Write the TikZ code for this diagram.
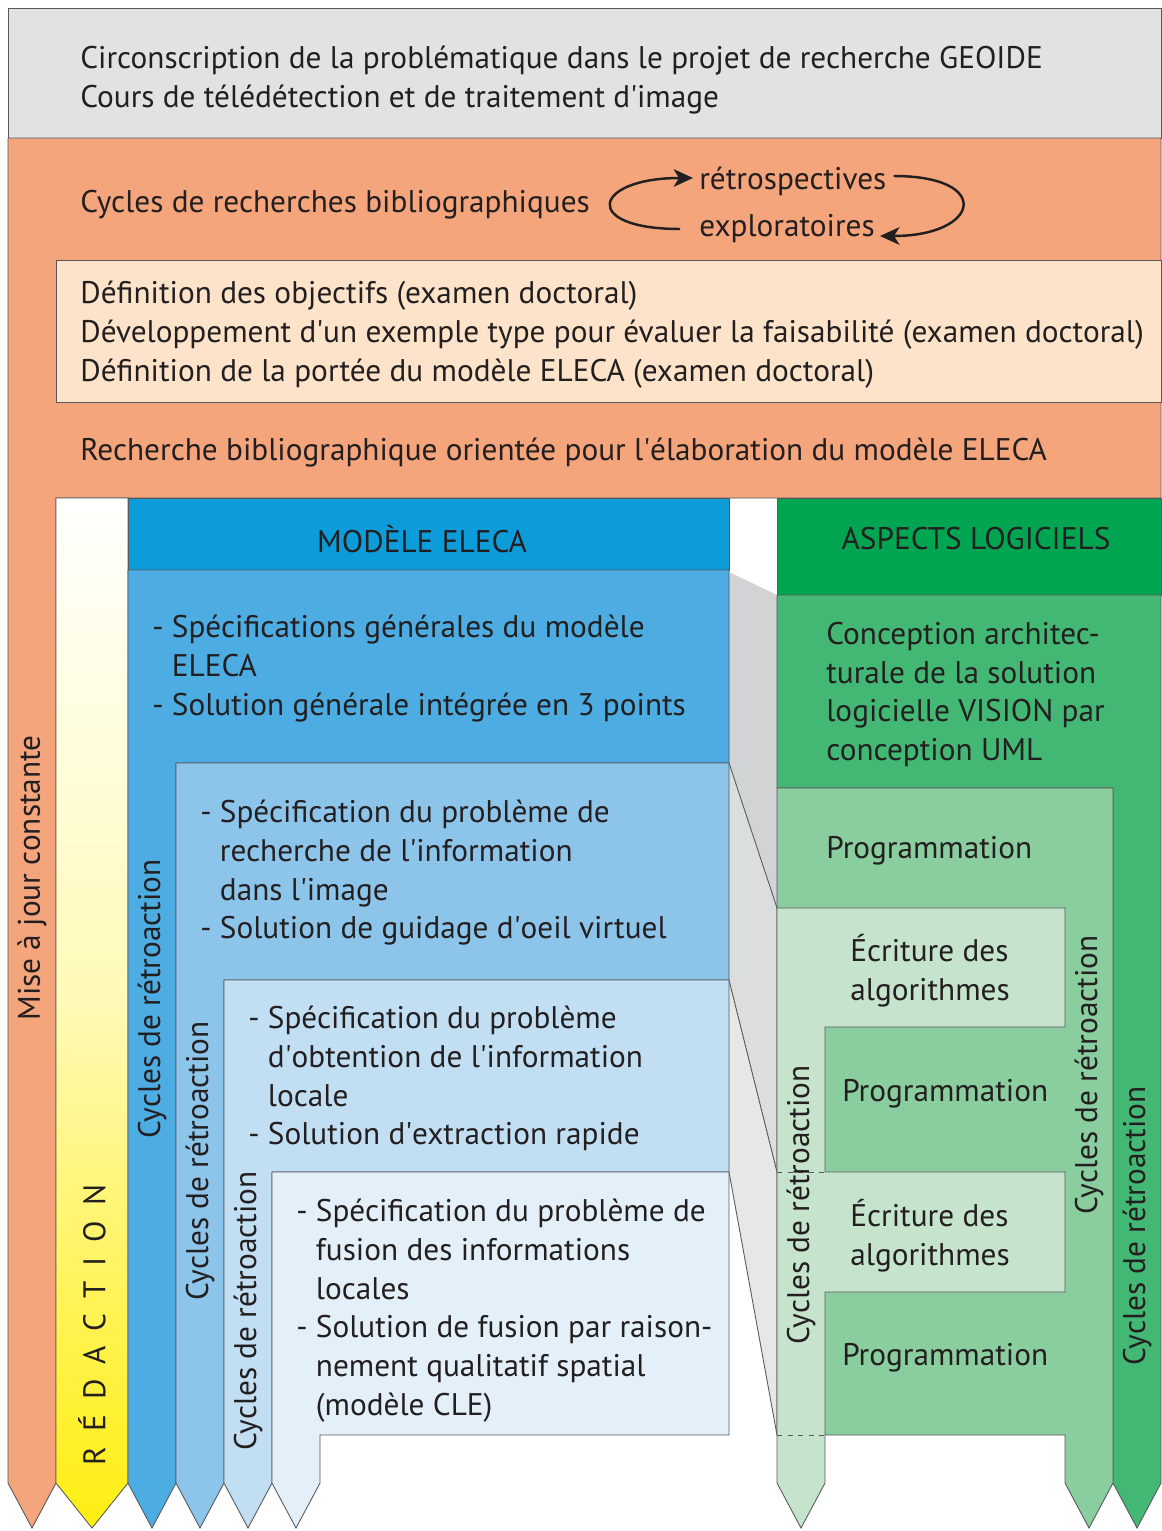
\documentclass[tikz,border=0pt]{standalone}
\usepackage{fontspec}
\setmainfont{PT Sans}
\usepackage{tikz}
\usetikzlibrary{shapes,arrows,arrows.meta,calc}

\definecolor{ink}{HTML}{231F20}
\definecolor{edge}{HTML}{58595B}
\definecolor{greytop}{HTML}{E1E2E3}
\definecolor{orangebg}{HTML}{F4A57C}
\definecolor{creambg}{HTML}{FCE3C9}
\definecolor{blueH}{HTML}{0C9CDA}
\definecolor{blueA}{HTML}{4DADE2}
\definecolor{blueB}{HTML}{8DC5EA}
\definecolor{blueC}{HTML}{C2DEF3}
\definecolor{blueD}{HTML}{E3F0FA}
\definecolor{greenH}{HTML}{00A551}
\definecolor{greenA}{HTML}{43B874}
\definecolor{greenB}{HTML}{8ACD9E}
\definecolor{greenC}{HTML}{C6E4CC}
\definecolor{greyA}{HTML}{D1D3D4}
\definecolor{greyB}{HTML}{DCDDDF}
\definecolor{greyC}{HTML}{E6E7E8}
\definecolor{yellowbg}{HTML}{FFEE10}

\newcommand{\ap}{\textquotesingle}

\tikzstyle{band} = [draw=edge, line width=0.5pt]
\tikzstyle{lbl} = [inner sep=0pt, text=ink, font=\fontsize{17.8}{22}\selectfont]
\tikzstyle{para} = [lbl, align=left, anchor=north west]
\tikzstyle{oneline} = [lbl, anchor=west]
\tikzstyle{vlabel} = [lbl, rotate=90]
\tikzstyle{cyclearrow} = [-{Stealth[length=11pt,width=10pt,inset=3pt]}, draw=ink, line width=1.4pt]

\begin{document}
\begin{tikzpicture}[x=0.02cm, y=-0.02cm]
  \useasboundingbox (0,0) rectangle (1161,1531);
  % Place bands
  \filldraw [band, fill=greytop] (8,8) rectangle (1161,138);
  \filldraw [band, fill=orangebg] (8,138) -- (1161,138) -- (1161,498) -- (56,498)
    -- (56,1483) -- (32,1528) -- (8,1483) -- cycle;
  \filldraw [band, fill=creambg] (56,260) rectangle (1161,402);
  \shade [top color=white, bottom color=yellowbg!30] (56,498) rectangle (128,1000);
  \shade [top color=yellowbg!30, bottom color=yellowbg]
    (56,999) -- (128,999) -- (128,1483) -- (92,1528) -- (56,1483) -- cycle;
  \draw [band] (56,498) -- (128,498) -- (128,1483) -- (92,1528) -- (56,1483) -- cycle;
  % grey links between the two sides
  \fill [greyA] (729,572) -- (777,595) -- (777,908) -- (729,763) -- cycle;
  \fill [greyB] (729,763) -- (777,908) -- (777,1172) -- (729,980) -- cycle;
  \fill [greyC] (729,980) -- (777,1172) -- (777,1435) -- (729,1172) -- cycle;
  \draw [band] (729,763) -- (777,908);
  \draw [band] (729,980) -- (777,1172);
  \draw [band] (729,1172) -- (777,1435);
  % blue side
  \filldraw [band, fill=blueH] (128,498) rectangle (729,570);
  \filldraw [band, fill=blueA] (128,570) -- (729,570) -- (729,763) -- (176,763)
    -- (176,1483) -- (152,1528) -- (128,1483) -- cycle;
  \filldraw [band, fill=blueB] (176,763) -- (729,763) -- (729,980) -- (224,980)
    -- (224,1483) -- (200,1528) -- (176,1483) -- cycle;
  \filldraw [band, fill=blueC] (224,980) -- (729,980) -- (729,1172) -- (272,1172)
    -- (272,1483) -- (248,1528) -- (224,1483) -- cycle;
  \filldraw [band, fill=blueD] (272,1172) -- (729,1172) -- (729,1435) -- (320,1435)
    -- (320,1483) -- (296,1528) -- (272,1483) -- cycle;
  % green side
  \filldraw [band, fill=greenH] (777,498) rectangle (1161,595);
  \filldraw [band, fill=greenA] (777,595) -- (1161,595) -- (1161,1483) -- (1137,1528)
    -- (1113,1483) -- (1113,788) -- (777,788) -- cycle;
  \filldraw [band, fill=greenB] (777,788) -- (1113,788) -- (1113,1483) -- (1089,1528)
    -- (1065,1483) -- (1065,1435) -- (777,1435) -- cycle;
  \filldraw [band, fill=greenC] (777,908) -- (1065,908) -- (1065,1027) -- (825,1027)
    -- (825,1172) -- (1065,1172) -- (1065,1292) -- (825,1292) -- (825,1483)
    -- (801,1528) -- (777,1483) -- cycle;
  \draw [band, dashed] (777,1172) -- (825,1172);
  \draw [band, dashed] (777,1435) -- (825,1435);

  % Place texts
  \node [para] (geoide) at (80,46) {Circonscription de la problématique dans le projet de recherche GEOIDE\\
    Cours de télédétection et de traitement d\ap image};
  \node [oneline] (cycles) at (80,205) {Cycles de recherches bibliographiques};
  \node [oneline] (retro) at (699,181) {rétrospectives};
  \node [oneline] (explo) at (699,229) {exploratoires};
  \node [para] (objectifs) at (80,281) {Définition des objectifs (examen doctoral)\\
    Développement d\ap un exemple type pour évaluer la faisabilité (examen doctoral)\\
    Définition de la portée du modèle ELECA (examen doctoral)};
  \node [oneline] (orientee) at (80,453) {Recherche bibliographique orientée pour l\ap élaboration du modèle ELECA};
  \node [lbl] (modele) at (422,539) {MODÈLE ELECA};
  \node [lbl] (aspects) at (976,539) {ASPECTS LOGICIELS};
  \node [para] (general) at (152,615) {- Spécifications générales du modèle\\
    \phantom{- }ELECA\\
    - Solution générale intégrée en 3 points};
  \node [para] (guidage) at (200,800) {- Spécification du problème de\\
    \phantom{- }recherche de l\ap information\\
    \phantom{- }dans l\ap image\\
    - Solution de guidage d\ap oeil virtuel};
  \node [para] (extraction) at (248,1006) {- Spécification du problème\\
    \phantom{- }d\ap obtention de l\ap information\\
    \phantom{- }locale\\
    - Solution d\ap extraction rapide};
  \node [para] (fusion) at (296,1199) {- Spécification du problème de\\
    \phantom{- }fusion des informations\\
    \phantom{- }locales\\
    - Solution de fusion par raison-\\
    \phantom{- }nement qualitatif spatial\\
    \phantom{- }(modèle CLE)};
  \node [para] (uml) at (826,622) {Conception architec-\\
    turale de la solution\\
    logicielle VISION par\\
    conception UML};
  \node [oneline] (prog1) at (826,851) {Programmation};
  \node [para] (ecrit1) at (850,934) {Écriture des\\algorithmes};
  \node [oneline] (prog2) at (842,1094) {Programmation};
  \node [para] (ecrit2) at (850,1199) {Écriture des\\algorithmes};
  \node [oneline] (prog3) at (842,1358) {Programmation};
  % vertical labels
  \node [vlabel] (mise) at (32,878) {Mise à jour constante};
  \node [vlabel] (redaction) at (92,1325) {R\hspace{8.5pt}É\hspace{8.5pt}D\hspace{8.5pt}A\hspace{8.5pt}C\hspace{8.5pt}T\hspace{8.5pt}I\hspace{8.5pt}O\hspace{8.5pt}N};
  \node [vlabel] (retroA) at (152,999) {Cycles de rétroaction};
  \node [vlabel] (retroB) at (200,1161) {Cycles de rétroaction};
  \node [vlabel] (retroC) at (248,1311) {Cycles de rétroaction};
  \node [vlabel] (retroD) at (801,1205) {Cycles de rétroaction};
  \node [vlabel] (retroE) at (1089,1075) {Cycles de rétroaction};
  \node [vlabel] (retroF) at (1137,1226) {Cycles de rétroaction};

  % Draw edges
  \draw [cyclearrow] ($(explo.west)+(-19,0)$) .. controls +(-100,0) and +(-100,0) .. ($(retro.west)+(-6,-3)$);
  \draw [cyclearrow] ($(retro.east)+(7,-5)$) .. controls +(100,0) and +(100,0) .. ($(explo.east)+(5,7)$);
\end{tikzpicture}
\end{document}
